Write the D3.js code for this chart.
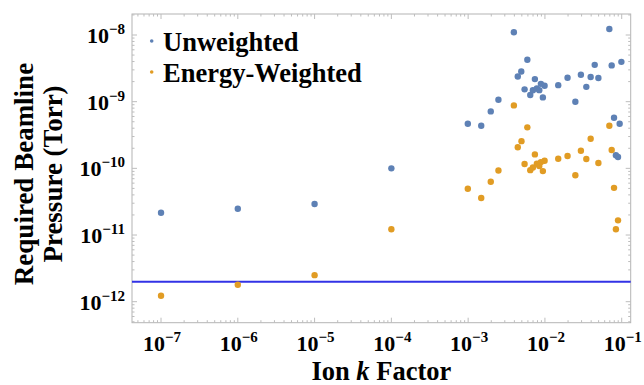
<!DOCTYPE html>
<html>
<head>
<meta charset="utf-8">
<script src="https://cdn.jsdelivr.net/npm/d3@7.9.0/dist/d3.min.js"></script>
<style>
  body { margin: 0; background: #fff; }
  svg { display: block; }
  text { font-family: 'Liberation Serif', 'Times New Roman', serif; font-weight: bold; fill: #000; }
</style>
</head>
<body>
<svg id="chart" width="644" height="385"></svg>
<script>
// ion k factor and required pressure (Torr)
const unweightedK = [1e-7, 1e-6, 1e-5, 1e-4, 9.9e-4, 1.48e-3, 1.97e-3, 2.48e-3, 3.94e-3, 4.43e-3,
  4.92e-3, 5.43e-3, 5.9e-3, 6.44e-3, 6.97e-3, 7.4e-3, 7.85e-3, 8.44e-3, 8.86e-3, 9.4e-3,
  9.9e-3, 0.0149, 0.0197, 0.0249, 0.0294, 0.0346, 0.0394, 0.0445, 0.0497, 0.069,
  0.074, 0.0794, 0.084, 0.0895, 0.094, 0.099];
const unweightedP = [2.16e-11, 2.48e-11, 2.92e-11, 1.0e-10, 4.67e-10, 4.35e-10, 7.15e-10, 1.07e-9, 1.1e-8, 2.39e-9,
  2.84e-9, 1.53e-9, 4.25e-9, 1.26e-9, 1.48e-9, 2.18e-9, 1.58e-9, 1.49e-9, 1.85e-9, 1.16e-9,
  1.73e-9, 1.77e-9, 2.28e-9, 1.0e-9, 2.53e-9, 1.67e-9, 2.34e-9, 3.57e-9, 2.26e-9, 1.23e-8,
  3.5e-9, 5.74e-10, 1.57e-10, 1.48e-10, 4.67e-10, 3.96e-9];

const weightedK = [1e-7, 1e-6, 1e-5, 1e-4, 9.9e-4, 1.48e-3, 1.97e-3, 2.48e-3, 3.94e-3, 4.43e-3,
  4.95e-3, 5.43e-3, 5.9e-3, 6.44e-3, 6.97e-3, 7.4e-3, 7.85e-3, 8.44e-3, 8.86e-3, 9.4e-3,
  9.9e-3, 0.0149, 0.0197, 0.0249, 0.0294, 0.0346, 0.0394, 0.0497, 0.069, 0.074,
  0.0794, 0.084, 0.0895];
const weightedP = [1.23e-12, 1.8e-12, 2.5e-12, 1.22e-11, 4.94e-11, 3.59e-11, 6.3e-11, 9.3e-11, 8.8e-10, 2.07e-10,
  2.56e-10, 1.16e-10, 4.12e-10, 9.4e-11, 1.03e-10, 1.62e-10, 1.17e-10, 1.08e-10, 1.24e-10, 9.1e-11,
  1.3e-10, 1.39e-10, 1.53e-10, 7.9e-11, 1.84e-10, 1.38e-10, 2.78e-10, 1.2e-10, 4.35e-10, 1.88e-10,
  5.1e-11, 1.22e-11, 1.66e-11];

const xTickExps = [-7, -6, -5, -4, -3, -2, -1];
const yTickExps = [-12, -11, -10, -9, -8];
const threshold = 2e-12;
const seriesNames = ['Unweighted', 'Energy-Weighted'];
const seriesColors = ['#5e81b5', '#e19c24'];

const width = 644, height = 385;
const margin = { top: 14, right: 13.3, bottom: 62.3, left: 132 };
const innerW = width - margin.left - margin.right;
const innerH = height - margin.top - margin.bottom;

const svg = d3.select('#chart');
const g = svg.append('g').attr('transform', `translate(${margin.left},${margin.top})`);

const x = d3.scaleLog().domain([Math.pow(10, -7.378), Math.pow(10, -0.883)]).range([0, innerW]);
const y = d3.scaleLog().domain([Math.pow(10, -12.315), Math.pow(10, -7.685)]).range([innerH, 0]);

// minor + major tick values for the log axes
function logTicks(scale) {
  const [a, b] = scale.domain();
  const out = [];
  for (let e = Math.floor(Math.log10(a)); e <= Math.ceil(Math.log10(b)); e++) {
    for (let m = 1; m <= 9; m++) {
      const v = m * Math.pow(10, e);
      if (v >= a && v <= b) out.push({ v, major: m === 1 });
    }
  }
  return out;
}

const frameColor = '#b4b4b4';
const tickColor = '#bdbdbd';

g.append('rect')
  .attr('width', innerW)
  .attr('height', innerH)
  .attr('fill', 'none')
  .attr('stroke', frameColor)
  .attr('stroke-width', 1);

const xt = logTicks(x);
const yt = logTicks(y);

// ticks on all four sides, pointing in
g.selectAll('.xb').data(xt).enter().append('line')
  .attr('x1', d => x(d.v)).attr('x2', d => x(d.v))
  .attr('y1', innerH).attr('y2', d => innerH - (d.major ? 5 : 2.5))
  .attr('stroke', tickColor);
g.selectAll('.xtp').data(xt).enter().append('line')
  .attr('x1', d => x(d.v)).attr('x2', d => x(d.v))
  .attr('y1', 0).attr('y2', d => (d.major ? 5 : 2.5))
  .attr('stroke', tickColor);
g.selectAll('.yl').data(yt).enter().append('line')
  .attr('y1', d => y(d.v)).attr('y2', d => y(d.v))
  .attr('x1', 0).attr('x2', d => (d.major ? 5 : 2.5))
  .attr('stroke', tickColor);
g.selectAll('.yr').data(yt).enter().append('line')
  .attr('y1', d => y(d.v)).attr('y2', d => y(d.v))
  .attr('x1', innerW).attr('x2', d => innerW - (d.major ? 5 : 2.5))
  .attr('stroke', tickColor);

// tick labels as 10^n
function powLabel(sel, e) {
  sel.append('tspan').attr('font-size', 22).text('10');
  sel.append('tspan').attr('font-size', 15).attr('dy', -9).text('\u2212' + Math.abs(e));
}

xTickExps.forEach(e => {
  const t = g.append('text')
    .attr('x', x(Math.pow(10, e)) + 1)
    .attr('y', innerH + 28.5)
    .attr('text-anchor', 'middle');
  powLabel(t, e);
});

yTickExps.forEach(e => {
  const t = g.append('text')
    .attr('x', -7)
    .attr('y', y(Math.pow(10, e)) + 8)
    .attr('text-anchor', 'end');
  powLabel(t, e);
});

// threshold line
g.append('line')
  .attr('x1', 0).attr('x2', innerW)
  .attr('y1', y(threshold)).attr('y2', y(threshold))
  .attr('stroke', '#3232e6')
  .attr('stroke-width', 2);

// points
const series = [
  unweightedK.map((k, i) => ({ k, p: unweightedP[i] })),
  weightedK.map((k, i) => ({ k, p: weightedP[i] })),
];

series.forEach((pts, s) => {
  g.append('g').selectAll('circle').data(pts).enter().append('circle')
    .attr('cx', d => x(d.k))
    .attr('cy', d => y(d.p))
    .attr('r', 3.2)
    .attr('fill', seriesColors[s]);
});

// legend
seriesNames.forEach((name, i) => {
  const ly = 41 + i * 31;
  svg.append('circle')
    .attr('cx', 151.7).attr('cy', ly)
    .attr('r', 1.8)
    .attr('fill', seriesColors[i]);
  svg.append('text')
    .attr('x', 163).attr('y', ly + 10)
    .attr('font-size', 26.5)
    .text(name);
});

// axis titles
const xTitle = svg.append('text')
  .attr('x', margin.left + innerW / 2)
  .attr('y', 379.5)
  .attr('text-anchor', 'middle')
  .attr('font-size', 26.5);
xTitle.append('tspan').text('Ion ');
xTitle.append('tspan').attr('font-style', 'italic').text('k');
xTitle.append('tspan').text(' Factor');

const yTitle = svg.append('text')
  .attr('transform', 'translate(0,174) rotate(-90)')
  .attr('text-anchor', 'middle')
  .attr('font-size', 27);
yTitle.append('tspan').attr('x', 0).attr('y', 33).text('Required Beamline');
yTitle.append('tspan').attr('x', 0).attr('y', 62).text('Pressure (Torr)');
</script>
</body>
</html>
